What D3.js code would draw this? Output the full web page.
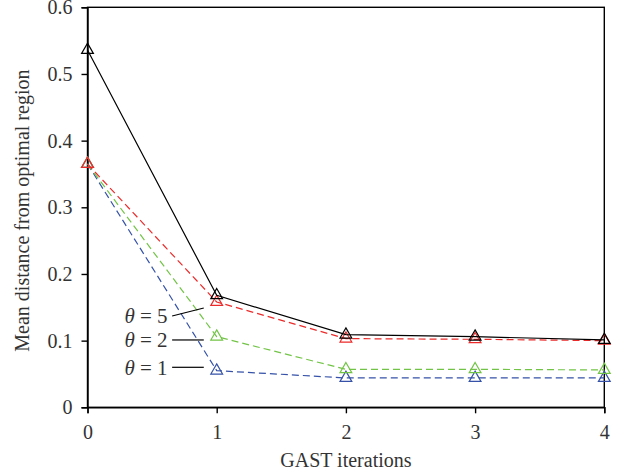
<!DOCTYPE html>
<html>
<head>
<meta charset="utf-8">
<script src="https://cdn.jsdelivr.net/npm/d3@7"></script>
<style>
  body { margin: 0; background: #fff; }
  text { font-family: "Liberation Serif", "DejaVu Serif", serif; fill: #333; }
</style>
</head>
<body>
<svg id="chart" width="619" height="475"></svg>
<script>
// data
const iterations = [0, 1, 2, 3, 4];
const theta1 = [0.365, 0.055, 0.044, 0.044, 0.044];
const theta2 = [0.365, 0.106, 0.057, 0.057, 0.056];
const theta5 = [0.365, 0.158, 0.103, 0.102, 0.100];
const optimal = [0.536, 0.168, 0.109, 0.106, 0.101];
const yTicks = [0, 0.1, 0.2, 0.3, 0.4, 0.5, 0.6];
const labels = ["θ = 5", "θ = 2", "θ = 1"];

const svg = d3.select("#chart");
const margin = { top: 7.3, right: 15, bottom: 68, left: 87.5 };
const width = 604.3 - margin.left;
const height = 407.3 - margin.top;

const x = d3.scaleLinear().domain([0, 4]).range([margin.left, margin.left + width]);
const y = d3.scaleLinear().domain([0, 0.6]).range([margin.top + height, margin.top]);

// frame
svg.append("rect")
  .attr("x", x(0)).attr("y", y(0.6))
  .attr("width", x(4) - x(0)).attr("height", y(0) - y(0.6))
  .attr("fill", "none").attr("stroke", "#000").attr("stroke-width", 1.4);

// axes
const xAxis = svg.append("g")
  .attr("transform", `translate(0,${y(0)})`)
  .call(d3.axisBottom(x).tickValues(iterations).tickFormat(d3.format("d")).tickSize(6).tickPadding(12));
const yAxis = svg.append("g")
  .attr("transform", `translate(${x(0)},0)`)
  .call(d3.axisLeft(y).tickValues(yTicks).tickFormat(d => d === 0 ? "0" : d3.format(".1f")(d)).tickSize(6).tickPadding(9));
[xAxis, yAxis].forEach(g => {
  g.select(".domain").attr("stroke", "#000").attr("stroke-width", 1.4);
  g.selectAll(".tick line").attr("stroke", "#000").attr("stroke-width", 1.4);
  g.selectAll(".tick text").style("font-size", "20px").attr("fill", "#333")
    .style("font-family", "'Liberation Serif', serif");
});

// axis titles
svg.append("text")
  .attr("x", (x(0) + x(4)) / 2).attr("y", 467)
  .attr("text-anchor", "middle").style("font-size", "20px")
  .text("GAST iterations");
svg.append("text")
  .attr("transform", `translate(29,${y(0.295)}) rotate(-90)`)
  .attr("text-anchor", "middle").style("font-size", "20px")
  .text("Mean distance from optimal region");

// series
const series = [
  { values: theta1, color: "#3552a8", dash: "7,4" },
  { values: theta2, color: "#72c446", dash: "7,4" },
  { values: theta5, color: "#ec2a2a", dash: "7,4" },
  { values: optimal, color: "#000", dash: null }
];

const line = d3.line().x((d, i) => x(iterations[i])).y(d => y(d));
const tri = d3.symbol().type(d3.symbolTriangle).size(60);

series.forEach(s => {
  svg.append("path")
    .datum(s.values)
    .attr("d", line)
    .attr("fill", "none")
    .attr("stroke", s.color)
    .attr("stroke-width", 1.2)
    .attr("stroke-dasharray", s.dash);
  svg.append("g").selectAll("path")
    .data(s.values)
    .join("path")
    .attr("d", tri)
    .attr("transform", (d, i) => `translate(${x(iterations[i])},${y(d)})`)
    .attr("fill", "none")
    .attr("stroke", s.color)
    .attr("stroke-width", 1.2);
});

// θ annotations with leader lines
const labelY = [0.137, 0.101, 0.06];
const leaderEnd = [0.149, 0.101, 0.06];
labels.forEach((t, i) => {
  const txt = svg.append("text")
    .attr("x", x(0.62)).attr("y", y(labelY[i]))
    .attr("dy", "0.35em")
    .attr("text-anchor", "end")
    .style("font-size", "21px");
  txt.append("tspan").style("font-style", "italic").text("θ");
  txt.append("tspan").text(t.slice(1));
  svg.append("line")
    .attr("x1", x(0.655)).attr("y1", y(labelY[i]))
    .attr("x2", x(0.9)).attr("y2", y(leaderEnd[i]))
    .attr("stroke", "#000").attr("stroke-width", 1.2);
});
</script>
</body>
</html>
